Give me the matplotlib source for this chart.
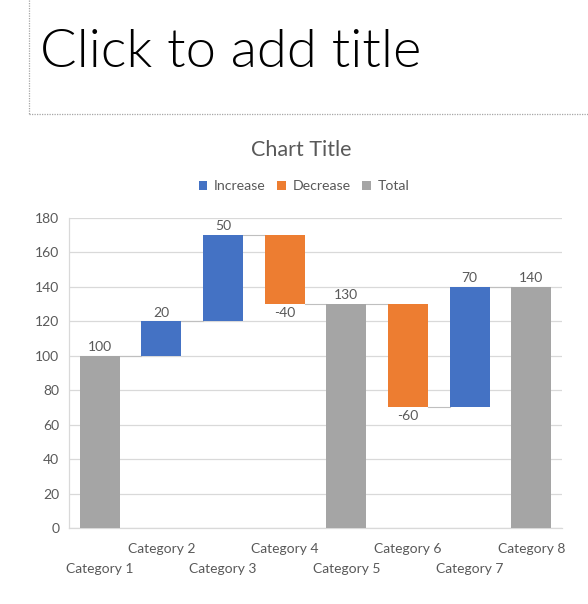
import matplotlib
matplotlib.use("Agg")
import matplotlib.pyplot as plt
from matplotlib.patches import Patch
from matplotlib.lines import Line2D
from matplotlib import transforms
import numpy as np

plt.rcParams['font.family'] = ['Lato', 'DejaVu Sans']

# ---- data ----
categories = ["Category 1", "Category 2", "Category 3", "Category 4",
              "Category 5", "Category 6", "Category 7", "Category 8"]
values = [100, 20, 50, -40, 130, -60, 70, 140]
is_total = [True, False, False, False, True, False, False, True]
series_names = ["Increase", "Decrease", "Total"]
y_ticks = [0, 20, 40, 60, 80, 100, 120, 140, 160, 180]
chart_title = "Chart Title"
slide_title = "Click to add title"

C_INC = "#4472C4"
C_DEC = "#ED7D31"
C_TOT = "#A5A5A5"
TXT = "#595959"
GRID = "#D9D9D9"

W, H = 588, 604
fig = plt.figure(figsize=(W / 100, H / 100), dpi=100)

def fx(px):
    return px / W

def fy(py):
    return (H - py) / H

# slide title placeholder (dotted box)
fig.add_artist(Line2D([fx(29), fx(29)], [fy(0), fy(114)], transform=fig.transFigure,
                      color="#A6A6A6", lw=0.9, ls=(0, (1, 1))))
fig.add_artist(Line2D([fx(29), 1.0], [fy(114), fy(114)], transform=fig.transFigure,
                      color="#A6A6A6", lw=0.9, ls=(0, (1, 1))))
t = fig.text(fx(40), fy(67), slide_title, fontsize=40, color="black",
             fontweight=300, va="baseline", ha="left")
fig.canvas.draw()
bb = t.get_window_extent(renderer=fig.canvas.get_renderer())
t.set_fontsize(40 * 380 / bb.width)

# chart axes
ax = fig.add_axes([fx(69), fy(528), (562 - 69) / W, (528 - 218) / H])
n = len(categories)
x = np.arange(n)

bottoms, heights, colors, ends = [], [], [], []
running = 0
for v, tot in zip(values, is_total):
    if tot:
        b, h, c = 0, v, C_TOT
        running = v
    else:
        b = running if v >= 0 else running + v
        h = abs(v)
        c = C_INC if v >= 0 else C_DEC
        running = running + v
    bottoms.append(b)
    heights.append(h)
    colors.append(c)
    ends.append(running)

bw = 0.65
ax.bar(x, heights, bottom=bottoms, width=bw, color=colors, zorder=3)

# connectors
for i in range(n - 1):
    ax.plot([x[i] + bw / 2, x[i + 1] - bw / 2], [ends[i], ends[i]],
            color="#BFBFBF", lw=0.8, zorder=2)

# data labels
for i, v in enumerate(values):
    if v >= 0:
        ax.annotate(f"{v}", (x[i], bottoms[i] + heights[i]), xytext=(0, 2),
                    textcoords="offset points", ha="center", va="bottom",
                    fontsize=10, color=TXT)
    else:
        ax.annotate(f"{v}", (x[i], bottoms[i]), xytext=(0, -2),
                    textcoords="offset points", ha="center", va="top",
                    fontsize=10, color=TXT)

ax.set_xlim(-0.5, n - 0.5)
ax.set_ylim(0, 180)
ax.set_yticks(y_ticks)
ax.tick_params(axis="y", length=0, pad=7, labelsize=10, labelcolor=TXT)
ax.set_xticks([])
ax.grid(axis="y", color=GRID, lw=0.9, zorder=0)
ax.set_axisbelow(True)
for s in ["top", "right"]:
    ax.spines[s].set_visible(False)
ax.spines["left"].set_color(GRID)
ax.spines["bottom"].set_color(GRID)
ax.spines["left"].set_linewidth(0.9)
ax.spines["bottom"].set_linewidth(0.9)

# staggered category labels
trans = transforms.blended_transform_factory(ax.transData, ax.transAxes)
for i, lab in enumerate(categories):
    off = 21 if i % 2 == 1 else 41
    ax.text(x[i], -off / 310, lab, transform=trans, ha="center", va="center",
            fontsize=10, color=TXT)

# chart title
fig.text(fx(301.5), fy(150), chart_title, ha="center", va="center",
         fontsize=15.5, color=TXT)

# legend
handles = [Patch(facecolor=c, edgecolor="none") for c in (C_INC, C_DEC, C_TOT)]
fig.legend(handles, series_names, loc="center", bbox_to_anchor=(fx(304), fy(186.5)),
           ncol=3, frameon=False, fontsize=10.2, labelcolor=TXT,
           handlelength=0.6, handleheight=0.6, handletextpad=0.45,
           columnspacing=0.85)

fig.savefig("out.png", dpi=100)
